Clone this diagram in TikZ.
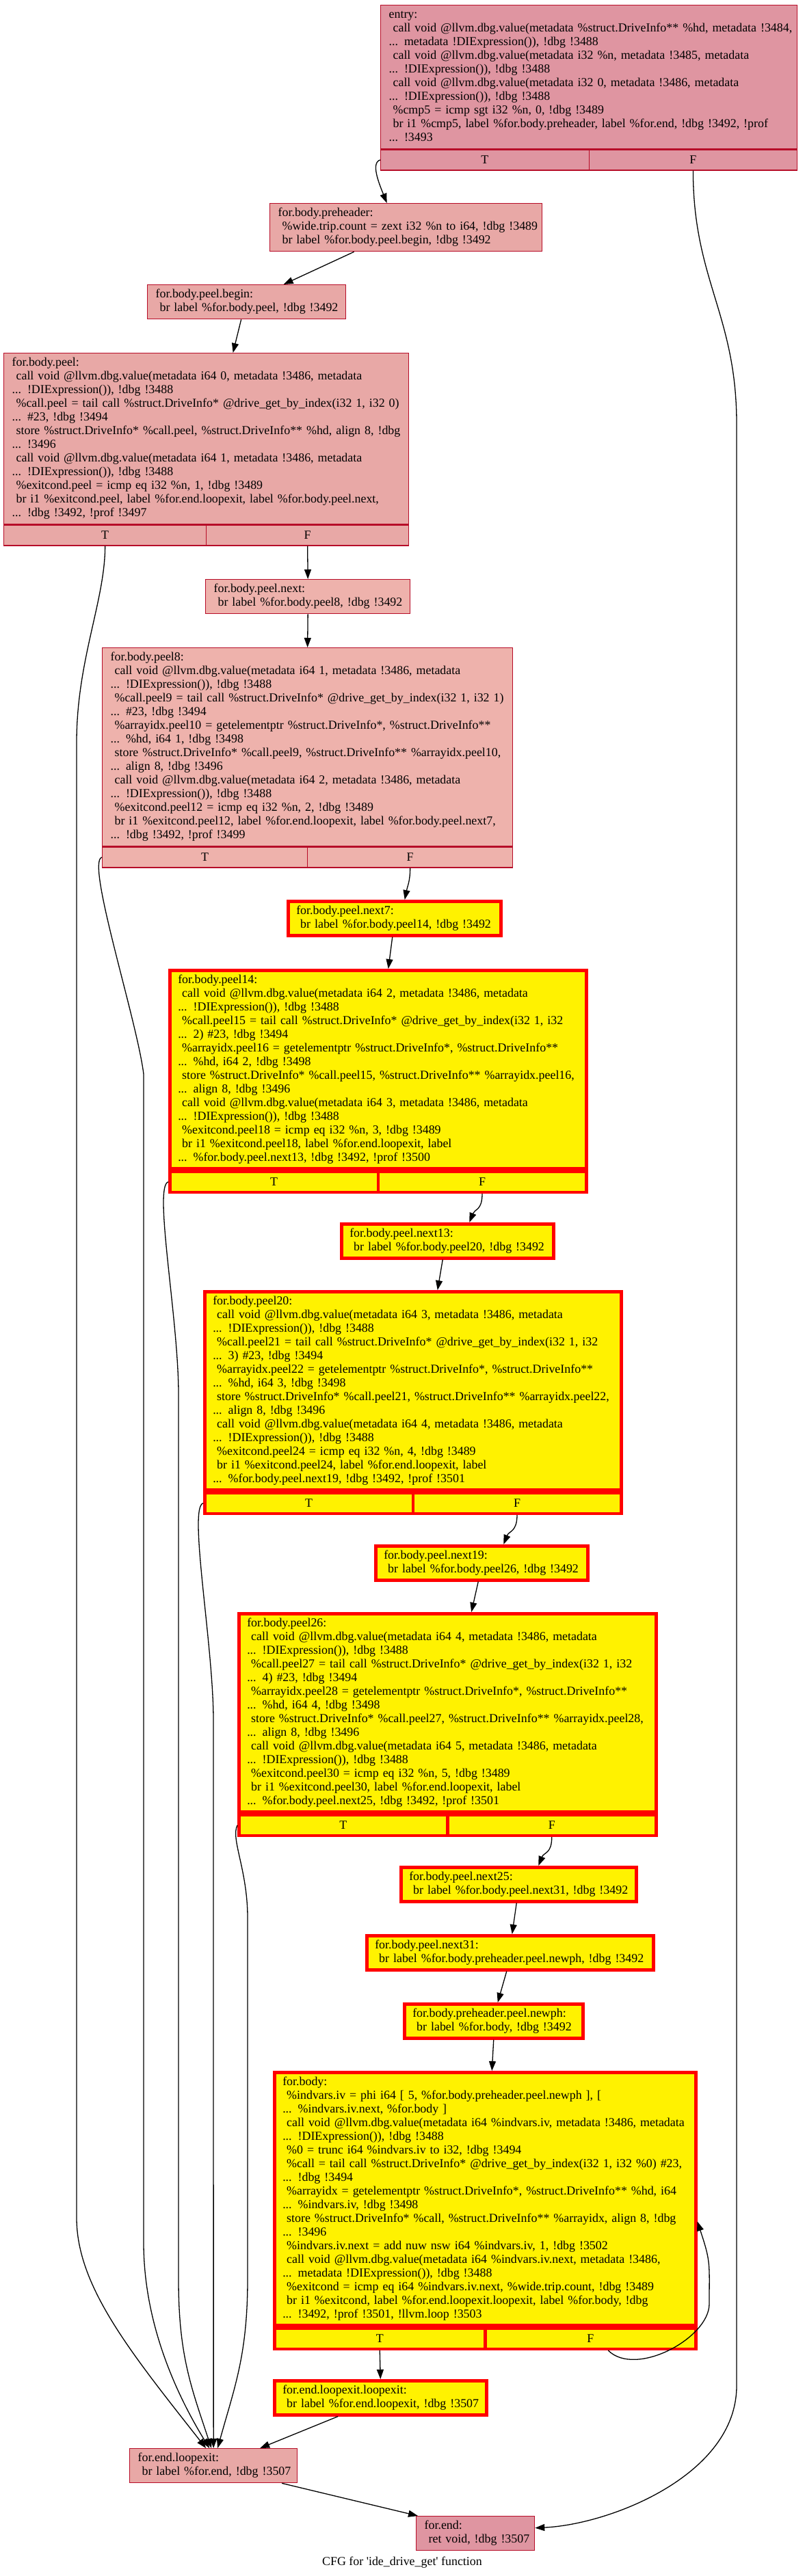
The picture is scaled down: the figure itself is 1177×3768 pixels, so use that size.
\documentclass[tikz,border=0pt]{standalone}
\usepackage{fontspec}
\setmainfont{Liberation Serif}
\usetikzlibrary{arrows.meta}

\definecolor{hotline}{HTML}{B70D28}
\definecolor{hotfill}{HTML}{DF95A1}
\definecolor{warmfill}{HTML}{E8A8A6}
\definecolor{mildfill}{HTML}{EEB2AC}

\newcommand{\cfgfont}{\fontsize{17.9}{20}\selectfont}
\newcommand{\cfgtext}[1]{\noindent\begin{tabular}{@{}l@{}}#1\end{tabular}}
% T and F cells under a block: name, half width, style
\newcommand{\tfports}[3]{%
  \node[#3,minimum width=#2,anchor=north west] (#1T) at (#1.south west) {T};
  \node[#3,minimum width=#2,anchor=north east] (#1F) at (#1.south east) {F};}

\tikzstyle{bb}=[rectangle,anchor=north west,inner xsep=12pt,inner ysep=5pt,font=\cfgfont]
\tikzstyle{bbhot}=[bb,draw=hotline,line width=1.3pt,fill=hotfill]
\tikzstyle{bbwarm}=[bb,draw=hotline,line width=1.3pt,fill=warmfill]
\tikzstyle{bbmild}=[bb,draw=hotline,line width=1.3pt,fill=mildfill]
\tikzstyle{bbmark}=[bb,draw=red,line width=4.5pt,fill=yellow]
\tikzstyle{port}=[rectangle,minimum height=30pt,inner sep=0pt,font=\cfgfont]
\tikzstyle{phot}=[port,draw=hotline,line width=1.3pt,fill=hotfill]
\tikzstyle{pwarm}=[port,draw=hotline,line width=1.3pt,fill=warmfill]
\tikzstyle{pmild}=[port,draw=hotline,line width=1.3pt,fill=mildfill]
\tikzstyle{pmark}=[port,draw=red,line width=4.5pt,fill=yellow]
\tikzstyle{wire}=[line width=1.3pt]

\begin{document}
\begin{tikzpicture}[x=1pt,y=-1pt]
	\useasboundingbox (0,0) rectangle (1177,3768);
	\begin{scope}[>={Triangle[length=14pt,width=10pt]}]
		% blocks
		\node[bbhot,text width=585pt] (entry) at (556,7) {\cfgtext{entry:\\
			\ call void @llvm.dbg.value(metadata \%struct.DriveInfo** \%hd, metadata !3484,\\
			... metadata !DIExpression()), !dbg !3488\\
			\ call void @llvm.dbg.value(metadata i32 \%n, metadata !3485, metadata\\
			... !DIExpression()), !dbg !3488\\
			\ call void @llvm.dbg.value(metadata i32 0, metadata !3486, metadata\\
			... !DIExpression()), !dbg !3488\\
			\ \%cmp5 = icmp sgt i32 \%n, 0, !dbg !3489\\
			\ br i1 \%cmp5, label \%for.body.preheader, label \%for.end, !dbg !3492, !prof\\
			... !3493}};
		\tfports{entry}{304.5pt}{phot}

		\node[bbwarm,text width=374pt] (preheader) at (394,297) {\cfgtext{for.body.preheader:\\
			\ \%wide.trip.count = zext i32 \%n to i64, !dbg !3489\\
			\ br label \%for.body.peel.begin, !dbg !3492}};

		\node[bbwarm,text width=266pt] (peelbegin) at (215,416) {\cfgtext{for.body.peel.begin:\\
			\ br label \%for.body.peel, !dbg !3492}};

		\node[bbwarm,text width=568pt] (peel) at (5,516) {\cfgtext{for.body.peel:\\
			\ call void @llvm.dbg.value(metadata i64 0, metadata !3486, metadata\\
			... !DIExpression()), !dbg !3488\\
			\ \%call.peel = tail call \%struct.DriveInfo* @drive\_get\_by\_index(i32 1, i32 0)\\
			... \#23, !dbg !3494\\
			\ store \%struct.DriveInfo* \%call.peel, \%struct.DriveInfo** \%hd, align 8, !dbg\\
			... !3496\\
			\ call void @llvm.dbg.value(metadata i64 1, metadata !3486, metadata\\
			... !DIExpression()), !dbg !3488\\
			\ \%exitcond.peel = icmp eq i32 \%n, 1, !dbg !3489\\
			\ br i1 \%exitcond.peel, label \%for.end.loopexit, label \%for.body.peel.next,\\
			... !dbg !3492, !prof !3497}};
		\tfports{peel}{296pt}{pwarm}

		\node[bbmild,text width=275pt] (peelnext) at (300,847) {\cfgtext{for.body.peel.next:\\
			\ br label \%for.body.peel8, !dbg !3492}};

		\node[bbmild,text width=576pt] (peel8) at (149,947) {\cfgtext{for.body.peel8:\\
			\ call void @llvm.dbg.value(metadata i64 1, metadata !3486, metadata\\
			... !DIExpression()), !dbg !3488\\
			\ \%call.peel9 = tail call \%struct.DriveInfo* @drive\_get\_by\_index(i32 1, i32 1)\\
			... \#23, !dbg !3494\\
			\ \%arrayidx.peel10 = getelementptr \%struct.DriveInfo*, \%struct.DriveInfo**\\
			... \%hd, i64 1, !dbg !3498\\
			\ store \%struct.DriveInfo* \%call.peel9, \%struct.DriveInfo** \%arrayidx.peel10,\\
			... align 8, !dbg !3496\\
			\ call void @llvm.dbg.value(metadata i64 2, metadata !3486, metadata\\
			... !DIExpression()), !dbg !3488\\
			\ \%exitcond.peel12 = icmp eq i32 \%n, 2, !dbg !3489\\
			\ br i1 \%exitcond.peel12, label \%for.end.loopexit, label \%for.body.peel.next7,\\
			... !dbg !3492, !prof !3499}};
		\tfports{peel8}{300pt}{pmild}

		\node[bbmark,text width=287pt] (next7) at (419,1316) {\cfgtext{for.body.peel.next7:\\
			\ br label \%for.body.peel14, !dbg !3492}};

		\node[bbmark,text width=585pt] (peel14) at (246,1417) {\cfgtext{for.body.peel14:\\
			\ call void @llvm.dbg.value(metadata i64 2, metadata !3486, metadata\\
			... !DIExpression()), !dbg !3488\\
			\ \%call.peel15 = tail call \%struct.DriveInfo* @drive\_get\_by\_index(i32 1, i32\\
			... 2) \#23, !dbg !3494\\
			\ \%arrayidx.peel16 = getelementptr \%struct.DriveInfo*, \%struct.DriveInfo**\\
			... \%hd, i64 2, !dbg !3498\\
			\ store \%struct.DriveInfo* \%call.peel15, \%struct.DriveInfo** \%arrayidx.peel16,\\
			... align 8, !dbg !3496\\
			\ call void @llvm.dbg.value(metadata i64 3, metadata !3486, metadata\\
			... !DIExpression()), !dbg !3488\\
			\ \%exitcond.peel18 = icmp eq i32 \%n, 3, !dbg !3489\\
			\ br i1 \%exitcond.peel18, label \%for.end.loopexit, label\\
			... \%for.body.peel.next13, !dbg !3492, !prof !3500}};
		\tfports{peel14}{304.5pt}{pmark}

		\node[bbmark,text width=286pt] (next13) at (497,1788) {\cfgtext{for.body.peel.next13:\\
			\ br label \%for.body.peel20, !dbg !3492}};

		\node[bbmark,text width=585pt] (peel20) at (297,1887) {\cfgtext{for.body.peel20:\\
			\ call void @llvm.dbg.value(metadata i64 3, metadata !3486, metadata\\
			... !DIExpression()), !dbg !3488\\
			\ \%call.peel21 = tail call \%struct.DriveInfo* @drive\_get\_by\_index(i32 1, i32\\
			... 3) \#23, !dbg !3494\\
			\ \%arrayidx.peel22 = getelementptr \%struct.DriveInfo*, \%struct.DriveInfo**\\
			... \%hd, i64 3, !dbg !3498\\
			\ store \%struct.DriveInfo* \%call.peel21, \%struct.DriveInfo** \%arrayidx.peel22,\\
			... align 8, !dbg !3496\\
			\ call void @llvm.dbg.value(metadata i64 4, metadata !3486, metadata\\
			... !DIExpression()), !dbg !3488\\
			\ \%exitcond.peel24 = icmp eq i32 \%n, 4, !dbg !3489\\
			\ br i1 \%exitcond.peel24, label \%for.end.loopexit, label\\
			... \%for.body.peel.next19, !dbg !3492, !prof !3501}};
		\tfports{peel20}{304.5pt}{pmark}

		\node[bbmark,text width=286pt] (next19) at (547,2259) {\cfgtext{for.body.peel.next19:\\
			\ br label \%for.body.peel26, !dbg !3492}};

		\node[bbmark,text width=586pt] (peel26) at (347,2358) {\cfgtext{for.body.peel26:\\
			\ call void @llvm.dbg.value(metadata i64 4, metadata !3486, metadata\\
			... !DIExpression()), !dbg !3488\\
			\ \%call.peel27 = tail call \%struct.DriveInfo* @drive\_get\_by\_index(i32 1, i32\\
			... 4) \#23, !dbg !3494\\
			\ \%arrayidx.peel28 = getelementptr \%struct.DriveInfo*, \%struct.DriveInfo**\\
			... \%hd, i64 4, !dbg !3498\\
			\ store \%struct.DriveInfo* \%call.peel27, \%struct.DriveInfo** \%arrayidx.peel28,\\
			... align 8, !dbg !3496\\
			\ call void @llvm.dbg.value(metadata i64 5, metadata !3486, metadata\\
			... !DIExpression()), !dbg !3488\\
			\ \%exitcond.peel30 = icmp eq i32 \%n, 5, !dbg !3489\\
			\ br i1 \%exitcond.peel30, label \%for.end.loopexit, label\\
			... \%for.body.peel.next25, !dbg !3492, !prof !3501}};
		\tfports{peel26}{305pt}{pmark}

		\node[bbmark,text width=320pt] (next25) at (584,2729) {\cfgtext{for.body.peel.next25:\\
			\ br label \%for.body.peel.next31, !dbg !3492}};

		\node[bbmark,text width=395pt] (next31) at (534,2829) {\cfgtext{for.body.peel.next31:\\
			\ br label \%for.body.preheader.peel.newph, !dbg !3492}};

		\node[bbmark,text width=237pt] (newph) at (589,2929) {\cfgtext{for.body.preheader.peel.newph:\\
			\ br label \%for.body, !dbg !3492}};

		\node[bbmark,text width=592pt] (body) at (399,3029) {\cfgtext{for.body:\\
			\ \%indvars.iv = phi i64 [ 5, \%for.body.preheader.peel.newph ], [\\
			... \%indvars.iv.next, \%for.body ]\\
			\ call void @llvm.dbg.value(metadata i64 \%indvars.iv, metadata !3486, metadata\\
			... !DIExpression()), !dbg !3488\\
			\ \%0 = trunc i64 \%indvars.iv to i32, !dbg !3494\\
			\ \%call = tail call \%struct.DriveInfo* @drive\_get\_by\_index(i32 1, i32 \%0) \#23,\\
			... !dbg !3494\\
			\ \%arrayidx = getelementptr \%struct.DriveInfo*, \%struct.DriveInfo** \%hd, i64\\
			... \%indvars.iv, !dbg !3498\\
			\ store \%struct.DriveInfo* \%call, \%struct.DriveInfo** \%arrayidx, align 8, !dbg\\
			... !3496\\
			\ \%indvars.iv.next = add nuw nsw i64 \%indvars.iv, 1, !dbg !3502\\
			\ call void @llvm.dbg.value(metadata i64 \%indvars.iv.next, metadata !3486,\\
			... metadata !DIExpression()), !dbg !3488\\
			\ \%exitcond = icmp eq i64 \%indvars.iv.next, \%wide.trip.count, !dbg !3489\\
			\ br i1 \%exitcond, label \%for.end.loopexit.loopexit, label \%for.body, !dbg\\
			... !3492, !prof !3501, !llvm.loop !3503}};
		\tfports{body}{308pt}{pmark}

		\node[bbmark,text width=286pt] (lxlx) at (399,3480) {\cfgtext{for.end.loopexit.loopexit:\\
			\ br label \%for.end.loopexit, !dbg !3507}};

		\node[bbwarm,text width=221pt] (felx) at (189,3581) {\cfgtext{for.end.loopexit:\\
			\ br label \%for.end, !dbg !3507}};

		\node[bbhot,text width=149pt] (forend) at (608,3680) {\cfgtext{for.end:\\
			\ ret void, !dbg !3507}};

		\node[font=\cfgfont,anchor=base] (caption) at (588,3752) {CFG for \textquotesingle ide\_drive\_get\textquotesingle{} function};

		% routing points
		\coordinate (fA) at (1077,620);
		\coordinate (fB) at (1077,3490);
		\coordinate (tA1) at (112,1086);
		\coordinate (tA2) at (112,3244);
		\coordinate (tB1) at (210,1571);
		\coordinate (tB2) at (210,3280);
		\coordinate (tC1) at (261,2039);
		\coordinate (tC2) at (261,3334);
		\coordinate (tD1) at (312,2516);
		\coordinate (tE1) at (362,2805);
		\coordinate (tE2) at (362,3334);
		\coordinate (loopR) at (1037,3370);

		% edges
		\draw[->,wire] (entryT.west) .. controls +(-14,4) and +(-12,-30) .. ([xshift=-28pt]preheader.north);
		\draw[->,wire] (entryF.south) .. controls +(0,160) and +(0,-160) .. (fA) -- (fB) .. controls +(0,130) and +(110,-5) .. ([yshift=8pt]forend.east);
		\draw[->,wire] ([xshift=-76pt]preheader.south) -- ([xshift=54pt]peelbegin.north);
		\draw[->,wire] ([xshift=-8pt]peelbegin.south) -- ([xshift=39pt]peel.north);
		\draw[->,wire] (peelF.south) -- (peelnext.north);
		\draw[->,wire] (peelnext.south) -- (peel8.north);
		\draw[->,wire] (peel8F.south) .. controls +(0,20) and +(4,-20) .. ([xshift=15pt]next7.north);
		\draw[->,wire] ([xshift=-3pt]next7.south) -- ([xshift=15pt]peel14.north);
		\draw[->,wire] (peel14F.south) .. controls +(0,25) and +(8,-20) .. ([xshift=32pt]next13.north);
		\draw[->,wire] ([xshift=-7pt]next13.south) -- ([xshift=36pt]peel20.north);
		\draw[->,wire] (peel20F.south) .. controls +(0,25) and +(8,-20) .. ([xshift=32pt]next19.north);
		\draw[->,wire] ([xshift=-5pt]next19.south) -- ([xshift=35pt]peel26.north);
		\draw[->,wire] (peel26F.south) .. controls +(0,25) and +(8,-20) .. ([xshift=29pt]next25.north);
		\draw[->,wire] ([xshift=-3pt]next25.south) -- ([xshift=3pt]next31.north);
		\draw[->,wire] ([xshift=-5pt]next31.south) -- ([xshift=6pt]newph.north);
		\draw[->,wire] (newph.south) -- ([xshift=10pt]body.north);
		\draw[->,wire] (bodyT.south) -- (lxlx.north);
		\draw[->,wire] ([xshift=26pt]bodyF.south) .. controls +(40,40) and +(0,50) .. (loopR) .. controls +(0,-60) and +(20,60) .. ([yshift=-33pt]body.east);
		\draw[->,wire] ([xshift=-62pt]lxlx.south) -- ([xshift=68pt]felx.north);
		\draw[->,wire] ([xshift=100pt]felx.south) -- ([xshift=3pt]forend.north west);

		% exits to for.end.loopexit
		\draw[->,wire] (peelT.south) .. controls +(0,80) and +(0,-120) .. (tA1) -- (tA2) .. controls +(0,100) and +(-110,-140) .. ([xshift=-11pt]felx.north);
		\draw[->,wire] (peel8T.west) .. controls +(-24,6) and +(-10,-80) .. (tB1) -- (tB2) .. controls +(0,110) and +(-55,-90) .. ([xshift=-6pt]felx.north);
		\draw[->,wire] (peel14T.west) .. controls +(-22,6) and +(0,-110) .. (tC1) -- (tC2) .. controls +(0,110) and +(-30,-90) .. ([xshift=-3pt]felx.north);
		\draw[->,wire] (peel20T.west) .. controls +(-22,6) and +(0,-110) .. (tD1) -- (felx.north);
		\draw[->,wire] (peel26T.west) .. controls +(-10,20) and +(0,-70) .. (tE1) -- (tE2) .. controls +(0,110) and +(25,-90) .. ([xshift=6pt]felx.north);
	\end{scope}
\end{tikzpicture}
\end{document}
